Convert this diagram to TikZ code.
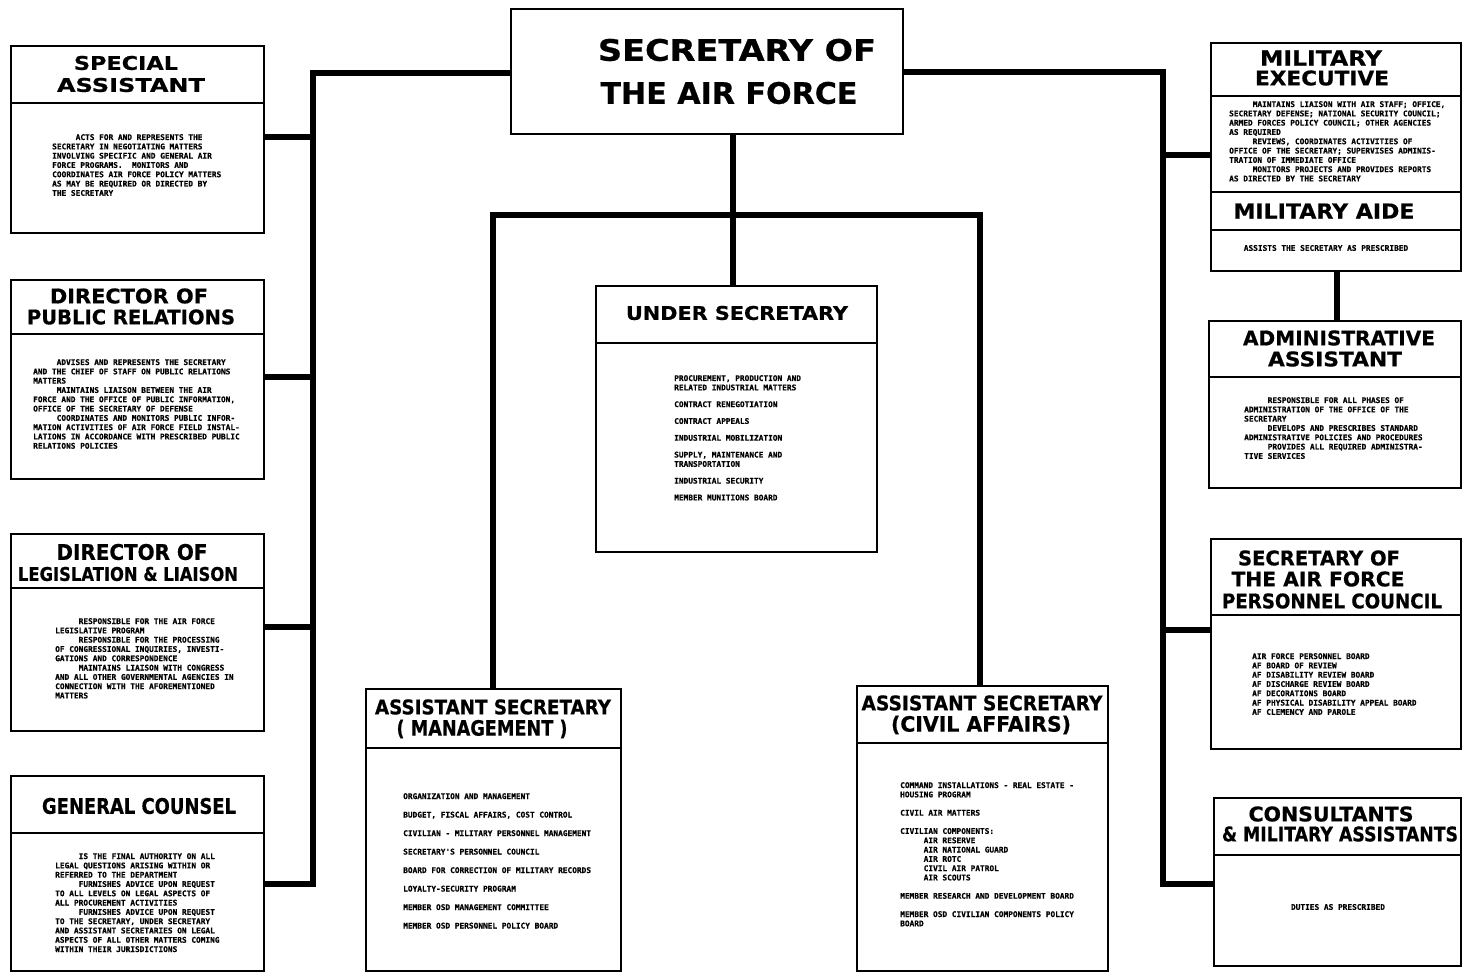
\documentclass[tikz,border=0pt]{standalone}
\usepackage{fontspec}
\usepackage{graphicx}
\newfontfamily\hdfont[BoldFeatures={FakeBold=0.6}]{DejaVu Sans}
\newfontfamily\monofam[BoldFeatures={FakeBold=0.5}]{DejaVu Sans Mono}
\newcommand\bodyfont{\monofam\bfseries\fontsize{7.8}{9.3}\selectfont}
\newcommand\hdl[3]{\resizebox{#1pt}{#2pt}{\hdfont\bfseries #3}}
\newcommand\ind{\hspace*{23.5pt}}
\tikzset{
  box/.style={draw=black, line width=2pt, fill=white, inner sep=0pt, anchor=north west},
  divider/.style={draw=black, line width=2pt},
  conn/.style={draw=black, line width=5.5pt},
  hd/.style={inner sep=0pt, anchor=center},
  body/.style={font=\bodyfont, align=left, anchor=north west, inner sep=0pt},
  cbody/.style={font=\bodyfont, align=center, anchor=center, inner sep=0pt}
}
\begin{document}
\begin{tikzpicture}[x=1pt,y=-1pt]
\useasboundingbox (0,0) rectangle (1463,972);
\fill[white] (0,0) rectangle (1463,972);

% ---------- connector coordinates ----------
\coordinate (Ltop) at (313,73);
\coordinate (Lbot) at (313,884);
\coordinate (L1) at (313,137);
\coordinate (L2) at (313,377);
\coordinate (L3) at (313,627);
\coordinate (Rtop) at (1163,72);
\coordinate (Rbot) at (1163,884);
\coordinate (R1) at (1163,155);
\coordinate (R2) at (1163,630);
\coordinate (Cx) at (733,0);
\coordinate (HL) at (493,215);
\coordinate (HR) at (980,215);
\coordinate (Vx) at (1337,0);

% ---------- boxes ----------
\node[box, minimum width=392pt, minimum height=125pt] (sec) at (510,8) {};
\node[box, minimum width=253pt, minimum height=187pt] (sa) at (10,45) {};
\node[box, minimum width=253pt, minimum height=199pt] (pr) at (10,279) {};
\node[box, minimum width=253pt, minimum height=197pt] (leg) at (10,533) {};
\node[box, minimum width=253pt, minimum height=195pt] (gc) at (10,775) {};
\node[box, minimum width=281pt, minimum height=266pt] (us) at (595,285) {};
\node[box, minimum width=255pt, minimum height=282pt] (mg) at (365,688) {};
\node[box, minimum width=251pt, minimum height=285pt] (ca) at (856,685) {};
\node[box, minimum width=250pt, minimum height=228pt] (me) at (1210,42) {};
\node[box, minimum width=252pt, minimum height=167pt] (aa) at (1208,320) {};
\node[box, minimum width=250pt, minimum height=210pt] (pc) at (1210,538) {};
\node[box, minimum width=247pt, minimum height=168pt] (cm) at (1213,797) {};

% ---------- connectors ----------
\draw[conn] (sec.west |- Ltop) -- (Ltop) -- (Lbot) -- (gc.east |- Lbot);
\draw[conn] (L1) -- (sa.east |- L1);
\draw[conn] (L2) -- (pr.east |- L2);
\draw[conn] (L3) -- (leg.east |- L3);
\draw[conn] (sec.east |- Rtop) -- (Rtop) -- (Rbot) -- (cm.west |- Rbot);
\draw[conn] (R1) -- (me.west |- R1);
\draw[conn] (R2) -- (pc.west |- R2);
\draw[conn] (sec.south -| Cx) -- (us.north -| Cx);
\draw[conn] (mg.north -| HL) -- (HL) -- (HR) -- (ca.north -| HR);
\draw[conn] (me.south -| Vx) -- (aa.north -| Vx);

% ---------- dividers ----------
\draw[divider] (10,103) -- (263,103);
\draw[divider] (10,334) -- (263,334);
\draw[divider] (10,588) -- (263,588);
\draw[divider] (10,833) -- (263,833);
\draw[divider] (595,343) -- (876,343);
\draw[divider] (365,748) -- (620,748);
\draw[divider] (856,743) -- (1107,743);
\draw[divider] (1210,96) -- (1460,96);
\draw[divider] (1210,192) -- (1460,192);
\draw[divider] (1210,230) -- (1460,230);
\draw[divider] (1208,377) -- (1460,377);
\draw[divider] (1210,615) -- (1460,615);
\draw[divider] (1213,855) -- (1460,855);

% ---------- headings ----------
\node[hd] (secA) at (737,50) {\hdl{278}{22}{SECRETARY OF}};
\node[hd] (secB) at (729,93) {\hdl{257}{22}{THE AIR FORCE}};
\node[hd] (saA) at (126,63) {\hdl{104}{14}{SPECIAL}};
\node[hd] (saB) at (131,85) {\hdl{148}{14}{ASSISTANT}};
\node[hd] (prA) at (129,296) {\hdl{158}{15}{DIRECTOR OF}};
\node[hd] (prB) at (131,317) {\hdl{208}{15}{PUBLIC RELATIONS}};
\node[hd] (legA) at (132,552) {\hdl{151}{16}{DIRECTOR OF}};
\node[hd] (legB) at (128,574) {\hdl{220}{14}{LEGISLATION \& LIAISON}};
\node[hd] (gcA) at (139,806) {\hdl{194}{16}{GENERAL COUNSEL}};
\node[hd] (usA) at (737,313) {\hdl{222}{14}{UNDER SECRETARY}};
\node[hd] (mgA) at (493,707) {\hdl{236}{15}{ASSISTANT SECRETARY}};
\node[hd] (mgB) at (482,729) {\hdl{171}{16}{( MANAGEMENT )}};
\node[hd] (caA) at (982,703) {\hdl{241}{15}{ASSISTANT SECRETARY}};
\node[hd] (caB) at (981,725) {\hdl{180}{16}{(CIVIL AFFAIRS)}};
\node[hd] (meA) at (1321,58) {\hdl{122}{15}{MILITARY}};
\node[hd] (meB) at (1322,78) {\hdl{134}{15}{EXECUTIVE}};
\node[hd] (maA) at (1324,211) {\hdl{181}{15}{MILITARY AIDE}};
\node[hd] (aaA) at (1339,338) {\hdl{192}{15}{ADMINISTRATIVE}};
\node[hd] (aaB) at (1335,359) {\hdl{134}{15}{ASSISTANT}};
\node[hd] (pcA) at (1319,558) {\hdl{162}{15}{SECRETARY OF}};
\node[hd] (pcB) at (1318,579) {\hdl{173}{15}{THE AIR FORCE}};
\node[hd] (pcC) at (1332,601) {\hdl{220}{15}{PERSONNEL COUNCIL}};
\node[hd] (cmA) at (1331,814) {\hdl{165}{15}{CONSULTANTS}};
\node[hd] (cmB) at (1340,834) {\hdl{236}{15}{\& MILITARY ASSISTANTS}};

% ---------- body texts ----------
\node[body] (saT) at (52,134) {\ind ACTS FOR AND REPRESENTS THE\\
SECRETARY IN NEGOTIATING MATTERS\\
INVOLVING SPECIFIC AND GENERAL AIR\\
FORCE PROGRAMS.\ \ MONITORS AND\\
COORDINATES AIR FORCE POLICY MATTERS\\
AS MAY BE REQUIRED OR DIRECTED BY\\
THE SECRETARY};

\node[body] (prT) at (33,359) {\ind ADVISES AND REPRESENTS THE SECRETARY\\
AND THE CHIEF OF STAFF ON PUBLIC RELATIONS\\
MATTERS\\
\ind MAINTAINS LIAISON BETWEEN THE AIR\\
FORCE AND THE OFFICE OF PUBLIC INFORMATION,\\
OFFICE OF THE SECRETARY OF DEFENSE\\
\ind COORDINATES AND MONITORS PUBLIC INFOR-\\
MATION ACTIVITIES OF AIR FORCE FIELD INSTAL-\\
LATIONS IN ACCORDANCE WITH PRESCRIBED PUBLIC\\
RELATIONS POLICIES};

\node[body] (legT) at (55,618) {\ind RESPONSIBLE FOR THE AIR FORCE\\
LEGISLATIVE PROGRAM\\
\ind RESPONSIBLE FOR THE PROCESSING\\
OF CONGRESSIONAL INQUIRIES, INVESTI-\\
GATIONS AND CORRESPONDENCE\\
\ind MAINTAINS LIAISON WITH CONGRESS\\
AND ALL OTHER GOVERNMENTAL AGENCIES IN\\
CONNECTION WITH THE AFOREMENTIONED\\
MATTERS};

\node[body] (gcT) at (55,853) {\ind IS THE FINAL AUTHORITY ON ALL\\
LEGAL QUESTIONS ARISING WITHIN OR\\
REFERRED TO THE DEPARTMENT\\
\ind FURNISHES ADVICE UPON REQUEST\\
TO ALL LEVELS ON LEGAL ASPECTS OF\\
ALL PROCUREMENT ACTIVITIES\\
\ind FURNISHES ADVICE UPON REQUEST\\
TO THE SECRETARY, UNDER SECRETARY\\
AND ASSISTANT SECRETARIES ON LEGAL\\
ASPECTS OF ALL OTHER MATTERS COMING\\
WITHIN THEIR JURISDICTIONS};

\node[body] (usT) at (674,375) {PROCUREMENT, PRODUCTION AND\\
RELATED INDUSTRIAL MATTERS\\[7.5pt]
CONTRACT RENEGOTIATION\\[7.5pt]
CONTRACT APPEALS\\[7.5pt]
INDUSTRIAL MOBILIZATION\\[7.5pt]
SUPPLY, MAINTENANCE AND\\
TRANSPORTATION\\[7.5pt]
INDUSTRIAL SECURITY\\[7.5pt]
MEMBER MUNITIONS BOARD};

\node[body] (mgT) at (403,793) {ORGANIZATION AND MANAGEMENT\\[9.2pt]
BUDGET, FISCAL AFFAIRS, COST CONTROL\\[9.2pt]
CIVILIAN - MILITARY PERSONNEL MANAGEMENT\\[9.2pt]
SECRETARY'S PERSONNEL COUNCIL\\[9.2pt]
BOARD FOR CORRECTION OF MILITARY RECORDS\\[9.2pt]
LOYALTY-SECURITY PROGRAM\\[9.2pt]
MEMBER OSD MANAGEMENT COMMITTEE\\[9.2pt]
MEMBER OSD PERSONNEL POLICY BOARD};

\node[body] (caT) at (900,782) {COMMAND INSTALLATIONS - REAL ESTATE -\\
HOUSING PROGRAM\\[9pt]
CIVIL AIR MATTERS\\[9pt]
CIVILIAN COMPONENTS:\\
\ind AIR RESERVE\\
\ind AIR NATIONAL GUARD\\
\ind AIR ROTC\\
\ind CIVIL AIR PATROL\\
\ind AIR SCOUTS\\[9pt]
MEMBER RESEARCH AND DEVELOPMENT BOARD\\[9pt]
MEMBER OSD CIVILIAN COMPONENTS POLICY\\
BOARD};

\node[body] (meT) at (1229,101) {\ind MAINTAINS LIAISON WITH AIR STAFF; OFFICE,\\
SECRETARY DEFENSE; NATIONAL SECURITY COUNCIL;\\
ARMED FORCES POLICY COUNCIL; OTHER AGENCIES\\
AS REQUIRED\\
\ind REVIEWS, COORDINATES ACTIVITIES OF\\
OFFICE OF THE SECRETARY; SUPERVISES ADMINIS-\\
TRATION OF IMMEDIATE OFFICE\\
\ind MONITORS PROJECTS AND PROVIDES REPORTS\\
AS DIRECTED BY THE SECRETARY};

\node[cbody] (maT) at (1326,248) {ASSISTS THE SECRETARY AS PRESCRIBED};

\node[body] (aaT) at (1244,397) {\ind RESPONSIBLE FOR ALL PHASES OF\\
ADMINISTRATION OF THE OFFICE OF THE\\
SECRETARY\\
\ind DEVELOPS AND PRESCRIBES STANDARD\\
ADMINISTRATIVE POLICIES AND PROCEDURES\\
\ind PROVIDES ALL REQUIRED ADMINISTRA-\\
TIVE SERVICES};

\node[body] (pcT) at (1252,653) {AIR FORCE PERSONNEL BOARD\\
AF BOARD OF REVIEW\\
AF DISABILITY REVIEW BOARD\\
AF DISCHARGE REVIEW BOARD\\
AF DECORATIONS BOARD\\
AF PHYSICAL DISABILITY APPEAL BOARD\\
AF CLEMENCY AND PAROLE};

\node[cbody] (cmT) at (1338,907) {DUTIES AS PRESCRIBED};
\end{tikzpicture}
\end{document}
